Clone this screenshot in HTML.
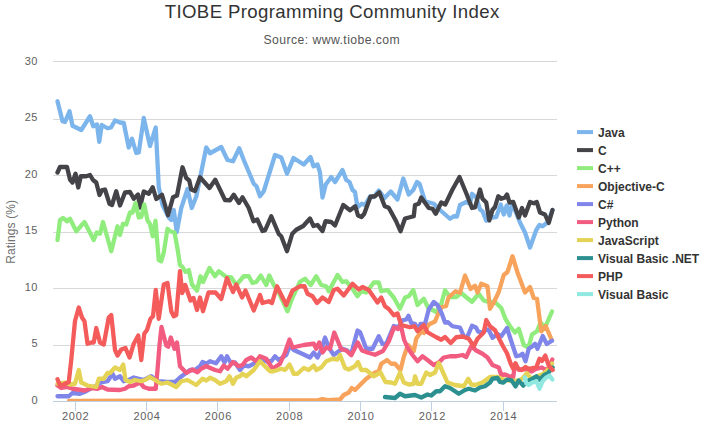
<!DOCTYPE html>
<html><head><meta charset="utf-8"><title>TIOBE Programming Community Index</title>
<style>
html,body{margin:0;padding:0;background:#fff;}
svg{display:block;font-family:"Liberation Sans",sans-serif;}
</style></head><body>
<svg width="704" height="426" viewBox="0 0 704 426">
<rect x="0" y="0" width="704" height="426" fill="#ffffff"/>
<path d="M53 61.5H557" stroke="#D8D8D8" stroke-width="1" fill="none"/>
<path d="M53 119.5H557" stroke="#D8D8D8" stroke-width="1" fill="none"/>
<path d="M53 175.5H557" stroke="#D8D8D8" stroke-width="1" fill="none"/>
<path d="M53 232.5H557" stroke="#D8D8D8" stroke-width="1" fill="none"/>
<path d="M53 288.5H557" stroke="#D8D8D8" stroke-width="1" fill="none"/>
<path d="M53 345.5H557" stroke="#D8D8D8" stroke-width="1" fill="none"/>
<path d="M53 401.5H557" stroke="#C0D0E0" stroke-width="1" fill="none"/>
<path d="M75.5 401V411" stroke="#C0D0E0" stroke-width="1" fill="none"/>
<path d="M146.5 401V411" stroke="#C0D0E0" stroke-width="1" fill="none"/>
<path d="M217.5 401V411" stroke="#C0D0E0" stroke-width="1" fill="none"/>
<path d="M289.5 401V411" stroke="#C0D0E0" stroke-width="1" fill="none"/>
<path d="M360.5 401V411" stroke="#C0D0E0" stroke-width="1" fill="none"/>
<path d="M431.5 401V411" stroke="#C0D0E0" stroke-width="1" fill="none"/>
<path d="M503.5 401V411" stroke="#C0D0E0" stroke-width="1" fill="none"/>
<defs><clipPath id="cp"><rect x="53" y="61" width="504" height="340"/></clipPath></defs>
<g clip-path="url(#cp)" fill="none" stroke-width="4.3" stroke-linejoin="round" stroke-linecap="round">
<path d="M57.5 101.25 L62.5 121.25 L65 122 L69.5 111.25 L72.5 125.75 L81.25 130 L90 116.25 L93.25 126.25 L97 124.5 L99.25 141.75 L101.75 125 L107.5 128.25 L111 127.5 L115 120.5 L120 122.5 L123.75 123 L128.75 147.5 L132 138.75 L136.25 153 L138.75 152.5 L143.75 118 L150 146 L155.75 127.5 L158.75 187 L162.5 205 L168.75 217.5 L171.25 220 L173.75 210 L176.75 232 L181.25 208 L187.5 189 L191.75 208 L196.25 196.5 L206.25 147.5 L210 153.25 L221.25 147 L227.5 160 L233 161.25 L239.25 148.25 L243.75 160 L253.75 183.75 L256.5 186.25 L260 196.25 L263.75 191.25 L275 155 L281.25 157.5 L287 173.75 L293.5 158 L303.75 164.5 L310.5 157 L313.5 166.25 L317.5 164.5 L320 172.5 L322.5 197.5 L325.75 184.5 L331.25 177 L335 182 L342.5 170 L346.25 180 L349.5 182 L352.5 190 L355 192 L357.5 207.5 L361.75 203.75 L365 205 L370 196.5 L373.75 197 L378.75 190.5 L384.5 198 L390.75 191.5 L397.5 199.5 L403.25 178.5 L408.75 194.5 L413.25 190 L417 182 L419.5 183.75 L425 201.25 L433.75 203.75 L440 210 L450 218.75 L453.75 216.25 L457 216.5 L460 205 L466.25 202 L470 203.75 L472 193.75 L476.25 197.5 L480 209.5 L482.5 211.25 L486.25 220.75 L491.25 217.5 L496.25 217 L500.75 204.5 L503.75 214.5 L506.75 205.5 L509.5 215.5 L512 204.5 L514.5 208.75 L520 222.5 L525 232.5 L530 247.5 L536.25 230 L539.5 225 L542.5 226.25 L548 222 L552.5 210" stroke="#7cb5ec"/>
<path d="M57.5 172.5 L60 167 L67 167 L70 179.5 L72.5 182.5 L75.5 173.75 L78.25 187.5 L80.75 176.25 L86.25 176.25 L90 175 L93 180 L96.25 182.5 L99.5 195 L102 190 L105 189.5 L109.5 203.75 L112 205 L116.25 191.25 L120 205.5 L125 192.5 L130 192 L133.75 198.75 L138 194.5 L140 207.5 L143.75 191.5 L148.75 193.75 L152.75 187.25 L156.25 199 L162 194.75 L168 215.25 L173 197.25 L177 195.5 L182.5 167.25 L186.25 178 L189.25 180.5 L191.25 189.5 L195 191 L200 177.25 L209.5 188 L215.25 179.75 L225 200 L230 200.25 L233.75 194.75 L239 203 L242.5 197.25 L248.75 208 L253.5 221.25 L257.25 219.5 L262.5 231 L265 230.5 L271.25 216.25 L278.75 234 L281.25 236.25 L287 251.25 L292.25 233.75 L296.25 229.75 L303.25 226 L310 218.5 L313.5 226 L317.5 225 L322.5 231 L325.5 221.25 L331.25 222 L335 225.5 L343.25 205 L350 210.25 L355.25 206.25 L358 215.5 L361.5 217 L364.25 213.75 L370.5 196.75 L375 196.25 L379.25 192.25 L384.75 206.25 L388.75 207.75 L396 221 L400.5 231.25 L405 218.5 L413.75 216.25 L415 205 L418.75 203.75 L421.25 197.5 L428.75 208 L432.5 208.75 L435.75 213.75 L441.25 202.5 L445.25 204.5 L452.5 189.5 L459.5 177 L466.25 193.25 L472 208 L475 207.5 L480 189.5 L482.5 198.75 L486.25 202.5 L489.25 220.5 L492.5 210 L495 207 L498.25 196.25 L501.25 198.75 L505 197.5 L507 194.5 L509.5 202.5 L513.25 202 L518.75 217.5 L522 208 L525 215.5 L530 202 L533.75 203.25 L536.75 202 L540 212.5 L545 214.5 L548.75 223 L552.5 210" stroke="#434348"/>
<path d="M57.5 240 L60 220 L63 218 L67 221.25 L70 218.75 L76.25 231.25 L84.5 222 L93.75 240 L96.75 232.5 L100 233.75 L103 222 L111.25 251.25 L117.5 226.25 L120 235 L123 223.75 L126.25 224.5 L130 212.5 L132.5 212.5 L135.5 203 L138.75 217.5 L141.25 217 L144.25 204.5 L147.5 220.5 L150 224 L152.75 236.25 L155.5 220.75 L158.75 260 L161.25 261.25 L163.75 252.5 L167.5 228.75 L170 231.25 L174.5 232.5 L177.5 248.75 L180 265 L182.5 267 L185.5 272 L188.75 270 L192 284.5 L197 290.5 L200.5 276.25 L203 282 L209.5 268 L215 276.25 L218.75 271.25 L226.25 277 L231.25 277.5 L236.25 285 L243.75 276.25 L248.75 276.25 L252.5 283 L256.25 282 L260.75 275.5 L266.25 285 L269.25 275.5 L273.75 285 L278.75 292.5 L287.5 311.25 L292.5 297.5 L300 281.75 L305 278.75 L310.75 285 L316.25 276.25 L321.25 285 L326.25 286.25 L328.75 291.25 L337.5 275 L342.5 282 L346.25 281.25 L352.5 288.75 L357.5 296.25 L361.25 291.25 L366.25 292.5 L373.75 282.5 L378.75 282.5 L381.25 291.25 L387.5 290 L393.75 297.5 L400 308.75 L405 297.5 L408.75 296.25 L413.25 290 L417.5 305 L423.75 298.75 L428 307.5 L436.25 312 L441.25 304 L445 290.25 L450 297 L456.25 297 L461.25 293 L466 297 L472 301.75 L478.75 293.75 L483.75 300.5 L488.75 302 L495 302 L501.25 308 L505.5 319 L510 326.25 L515 332.5 L518.75 328.75 L523.75 345 L528.5 347.5 L532 334.5 L537 331.25 L540.5 322.5 L545 327.5 L552 311.5" stroke="#90ed7d"/>
<path d="M69 400.9 L150 400.7 L317.5 400.3 L322.5 399 L327.5 400.2 L340 399.5 L343.75 395 L348.75 392.5 L351.75 388 L355 390 L360 385 L366.25 378.75 L375 372.5 L378.75 371.25 L381.25 363.75 L387 360 L391.25 363.75 L395 363.75 L400.5 370 L403.75 357 L408 345 L411.25 348.75 L413.75 351 L416.25 338.5 L422 330.5 L424 333 L428.75 324.5 L435 321.5 L438.75 312.5 L441.75 307 L446 306.25 L448.5 297.5 L455.5 291.25 L460 292.75 L465 275.5 L470.5 289 L475 285.75 L477.5 292.5 L481.25 283.75 L487.5 286.25 L490 308.75 L493.75 302.5 L498.75 292 L503.75 275 L507.5 272 L512.5 256.25 L517.5 272.5 L525 292.5 L530 287 L533.75 298 L537 298.75 L541.25 331.25 L545.75 326 L551.5 339.5" stroke="#f7a35c"/>
<path d="M57.5 396.25 L68.75 396.25 L72.5 393 L80 393.75 L86.25 391.25 L95 386.25 L101.25 382.5 L107.5 381.25 L112.5 373.75 L115 378.75 L120 376.25 L123.75 381.25 L128.75 380 L133.75 377.5 L143.75 380 L151.25 376.25 L157.5 381.25 L167.5 382 L175 382 L180 377.5 L190 370 L195 370 L200 366.25 L202.5 362 L206.25 363.75 L210 361.25 L216 363.25 L221.25 356.25 L224.5 362.5 L227 356.25 L231.25 363.75 L235 362.5 L240 370 L243.75 365.5 L248.75 366.25 L256.25 362.5 L261.25 358.75 L266.25 361.25 L271.25 361.25 L275 356.25 L278.75 360 L286.25 355 L289.5 346.25 L293.75 350 L303.75 354.5 L310 357.5 L313.75 352.5 L317.5 357.5 L321.25 350 L325 337.5 L328.75 347.5 L333.75 355 L338.75 351.25 L342.5 348.75 L346.25 350 L351.25 353.75 L357.5 330.5 L360 332 L366.25 348.75 L372.5 348.75 L378.75 336.25 L382.5 344 L386.25 343.75 L393.75 326 L398.75 327 L402.5 320.25 L406.25 319.5 L408.5 315.75 L411.25 323 L415 323.75 L417.5 330 L420.5 324 L425 323.75 L428.75 309.5 L433.75 302 L437.5 305 L441.75 313.5 L445 322.5 L448 322.25 L452.5 326.25 L460 327.5 L463.75 336.25 L467 337.5 L472 325.75 L476 327.5 L478.25 331.75 L483 332.5 L486.5 329.25 L489 330.5 L492.5 337.75 L497.5 334 L501.25 336.25 L507 328 L511.25 341.25 L516.25 356.25 L520 355.5 L522.5 353.75 L525.5 361.25 L528.75 348.75 L532.5 346.25 L535 343.75 L537.5 348.75 L542.75 336 L546.75 344 L552 340.75" stroke="#8085e9"/>
<path d="M57.5 385.5 L61.25 388 L67.5 387 L72.5 388.75 L85 390.5 L91.25 388 L97.5 388.75 L102 387 L107.5 389.5 L120 390 L125 388.75 L128.75 386.25 L133.75 385.5 L140 382.5 L143.75 387 L148.75 388.75 L155.75 388.75 L157.5 370 L159.5 345 L161.5 327 L166.25 345.5 L168.25 346.75 L170.75 337.5 L174.5 348.75 L177 342.5 L180 366.25 L186.25 372.75 L192.5 369.5 L197.5 372.25 L201.5 368.5 L206.25 366.25 L215 370 L220 371.25 L223.75 365.5 L227.5 368.75 L233 362 L238.75 366.25 L242.5 365 L246.25 360 L251.25 357.5 L256.25 361.25 L260 356.25 L266.25 358.75 L272.5 368.75 L280 363.75 L285 352.5 L289.5 339.5 L292.5 347.5 L303.75 345 L313.75 343.75 L316.25 348.75 L319.25 342.5 L322.5 352.5 L326.25 347.5 L330 348.75 L334.25 332.5 L341.25 349.25 L346.25 350.5 L351.25 355.25 L357.75 342.5 L362 350.5 L367.5 352.5 L375 354.75 L383 351 L388.75 341.5 L394 327.5 L398 329 L400.75 325 L404 339.5 L407.5 347.5 L412.5 355 L417.5 361.25 L422.5 356.25 L427.5 360 L433.75 365 L438.75 362.5 L443.75 357.5 L450 356.25 L456.25 356.25 L462.5 355 L466.25 357 L471.25 346.25 L476.25 350.5 L482.5 353.75 L487.5 357.5 L492.5 365 L498.75 367.5 L501.25 375 L505 374.5 L508.75 376 L513.2 377.3 L515 364.5 L518.75 369.5 L526 369 L531.8 371.5 L536 369 L541.9 367.5 L545 369.5 L548.5 369 L552.3 359.5" stroke="#f15c80"/>
<path d="M57.5 383.75 L65 382.5 L70 384.5 L75 383.75 L78.75 370 L81.25 382.5 L87.5 385.5 L96.25 387 L98.75 378.75 L103.75 378.75 L107.5 373 L110 373 L115 367.5 L120 370 L123.25 364.5 L125.5 380 L130 382 L135 380 L141.25 381.25 L145 380 L150 377 L155 380 L161.25 383.75 L167.5 382.5 L176.25 387 L181.25 381.25 L187.5 380 L196.25 385 L202.5 378.75 L206.25 380.5 L210 377.75 L215 380 L220 383.75 L226.25 381.25 L229.5 376.25 L233 383.75 L236.25 377.5 L240 376.25 L242.5 373.75 L246.25 376.25 L253.75 370 L260 361.25 L263.75 365 L270 371.25 L273.75 371.25 L281.25 368.75 L285 370 L289.5 364.5 L293.75 373.75 L297.5 373.75 L303.75 368 L308.75 370 L313.75 365.5 L316.25 370 L321.25 367.5 L326.25 361.25 L332.5 358.75 L337.5 359.5 L340 355 L345 368 L348.75 369.5 L355 366.25 L358 362 L361.25 370 L366.25 370 L373.75 376.25 L380.5 372.5 L385.5 382 L391.25 382.5 L395 383.75 L400 372.5 L403.75 382.5 L408.75 384.5 L413.75 383.75 L415 376.25 L417.5 383.75 L421.25 383.75 L426.25 372.5 L430 375 L435 372.5 L438.75 363 L442.5 371.25 L447.5 382.5 L455 385 L463.75 386.25 L468.25 378.75 L471.25 384.5 L475 385 L482.5 382.5 L490 377 L497.5 377 L503 379.5 L510 380.5 L518 381 L523 378 L527 373.2 L531 378.5 L537 376.5 L543 374 L548 369.5 L552 363.5" stroke="#e4d354"/>
<path d="M385 397 L395 398 L400 393.75 L405 396.25 L415 395 L421.25 397.5 L427.5 394.5 L431.25 395.5 L436.25 391.25 L440 391.25 L445 386.25 L450 388 L455 391.25 L458.75 393.75 L465 390 L468.75 388.75 L475 390.5 L480 387.5 L485 386.25 L490 382.5 L492.5 378.75 L497.5 378 L500 382 L503 382.7 L507 379.6 L511.6 380.4 L515.5 386.4 L518.6 380.4 L523.25 385.6 L527 381 L531 379.6 L536.4 376.3 L539.5 379.6 L544.2 375 L548 373.2 L552.6 367.5" stroke="#2b908f"/>
<path d="M57.5 379.25 L60 385.5 L63.75 384.5 L68.75 382 L71.25 360 L75 321 L78.75 307.5 L82 317.5 L84.5 321.25 L87.5 343.75 L91.25 342.5 L93.75 342.5 L96.25 328 L100 342.5 L103.75 344.5 L108.75 317.5 L111.25 315 L115 350 L117.5 355.5 L121.25 349.5 L125.5 348 L129.5 357.5 L133.75 343.75 L138.25 335.5 L141.25 360 L144.25 333.75 L147 330 L150.5 318.75 L153 316.25 L155.75 290 L158.75 318.75 L163.75 284.5 L167.5 283 L171.25 311.25 L173.75 316.25 L176.25 315 L180 271.25 L182.25 293 L185.25 285 L190.5 300.5 L193.5 298 L197 310 L200 297.5 L203 311.25 L208.5 292.5 L215.5 292.5 L221.25 299 L227 278 L233 292 L236.25 284.5 L242 297.5 L245.5 290.5 L253.75 310.5 L260 295 L262.5 303 L268.75 301.25 L272 303 L277 286.25 L286.25 305 L292.5 290.5 L300 286.25 L304.5 286.25 L307.5 293.75 L312.5 296.25 L317 303 L322.5 297.5 L328.75 302 L333.75 290 L337.5 288.75 L343.75 295.5 L352.5 283.75 L358.75 289.5 L362.5 287 L368.75 290 L377.5 302.5 L381.25 297.5 L385 306.25 L388.75 309 L393.75 315.25 L397.5 313.5 L401.25 325 L410 327.25 L414.5 326.25 L417.5 331.25 L423.75 325 L427.5 332.25 L436.25 337.25 L441.25 339.75 L445 337 L450.75 343 L456.25 337.25 L462.5 336.5 L468.75 338.75 L473.75 346.25 L477.5 338.75 L483.75 332.5 L486.25 320 L490 326.25 L495 330.25 L498.75 338 L503.1 346.5 L507 353.25 L510.85 364 L513.2 368.75 L515.5 363.3 L518.6 369.5 L521.7 370.2 L525.6 367 L528.7 368.8 L532.5 368 L536.4 367 L539.5 358.7 L541.9 361 L545.3 355.6 L548.8 365.7 L552.7 370" stroke="#f45b5b"/>
<path d="M524.8 377.3 L526.4 383.5 L528.7 385 L531.8 382.7 L536.4 381.2 L539.5 388.7 L542.6 381.2 L546.5 377.3 L549.6 375.7 L552.4 379.6" stroke="#91e8e1"/>
</g>
<text x="332.2" y="18.2" text-anchor="middle" font-size="18.6" letter-spacing="0.38" fill="#333333">TIOBE Programming Community Index</text>
<text x="331.8" y="44" text-anchor="middle" font-size="12.2" letter-spacing="0.45" fill="#555555">Source: www.tiobe.com</text>
<text x="38" y="65.1" text-anchor="end" font-size="11" letter-spacing="0.5" fill="#606060">30</text>
<text x="38" y="121.2" text-anchor="end" font-size="11" letter-spacing="0.5" fill="#606060">25</text>
<text x="38" y="178.2" text-anchor="end" font-size="11" letter-spacing="0.5" fill="#606060">20</text>
<text x="38" y="234.1" text-anchor="end" font-size="11" letter-spacing="0.5" fill="#606060">15</text>
<text x="38" y="290.9" text-anchor="end" font-size="11" letter-spacing="0.5" fill="#606060">10</text>
<text x="38" y="347.1" text-anchor="end" font-size="11" letter-spacing="0.5" fill="#606060">5</text>
<text x="38" y="404.1" text-anchor="end" font-size="11" letter-spacing="0.5" fill="#606060">0</text>
<text x="75.7" y="420" text-anchor="middle" font-size="11" letter-spacing="0.7" fill="#606060">2002</text>
<text x="147.03" y="420" text-anchor="middle" font-size="11" letter-spacing="0.7" fill="#606060">2004</text>
<text x="218.37" y="420" text-anchor="middle" font-size="11" letter-spacing="0.7" fill="#606060">2006</text>
<text x="289.7" y="420" text-anchor="middle" font-size="11" letter-spacing="0.7" fill="#606060">2008</text>
<text x="361.03" y="420" text-anchor="middle" font-size="11" letter-spacing="0.7" fill="#606060">2010</text>
<text x="432.37" y="420" text-anchor="middle" font-size="11" letter-spacing="0.7" fill="#606060">2012</text>
<text x="503.7" y="420" text-anchor="middle" font-size="11" letter-spacing="0.7" fill="#606060">2014</text>
<text transform="translate(14.5,231.8) rotate(-90)" text-anchor="middle" font-size="12" letter-spacing="0.1" fill="#707070">Ratings (%)</text>
<path d="M577 132.1H593" stroke="#7cb5ec" stroke-width="4" fill="none"/>
<text x="598" y="137" font-size="12" font-weight="bold" fill="#333333">Java</text>
<path d="M577 150.1H593" stroke="#434348" stroke-width="4" fill="none"/>
<text x="598" y="155" font-size="12" font-weight="bold" fill="#333333">C</text>
<path d="M577 168.1H593" stroke="#90ed7d" stroke-width="4" fill="none"/>
<text x="598" y="173" font-size="12" font-weight="bold" fill="#333333">C++</text>
<path d="M577 186.1H593" stroke="#f7a35c" stroke-width="4" fill="none"/>
<text x="598" y="191" font-size="12" font-weight="bold" fill="#333333">Objective-C</text>
<path d="M577 204.1H593" stroke="#8085e9" stroke-width="4" fill="none"/>
<text x="598" y="209" font-size="12" font-weight="bold" fill="#333333">C#</text>
<path d="M577 222.1H593" stroke="#f15c80" stroke-width="4" fill="none"/>
<text x="598" y="227" font-size="12" font-weight="bold" fill="#333333">Python</text>
<path d="M577 240.1H593" stroke="#e4d354" stroke-width="4" fill="none"/>
<text x="598" y="245" font-size="12" font-weight="bold" fill="#333333">JavaScript</text>
<path d="M577 258.1H593" stroke="#2b908f" stroke-width="4" fill="none"/>
<text x="598" y="263" font-size="12" font-weight="bold" fill="#333333">Visual Basic .NET</text>
<path d="M577 276.1H593" stroke="#f45b5b" stroke-width="4" fill="none"/>
<text x="598" y="281" font-size="12" font-weight="bold" fill="#333333">PHP</text>
<path d="M577 294.1H593" stroke="#91e8e1" stroke-width="4" fill="none"/>
<text x="598" y="299" font-size="12" font-weight="bold" fill="#333333">Visual Basic</text>
</svg>
</body></html>
